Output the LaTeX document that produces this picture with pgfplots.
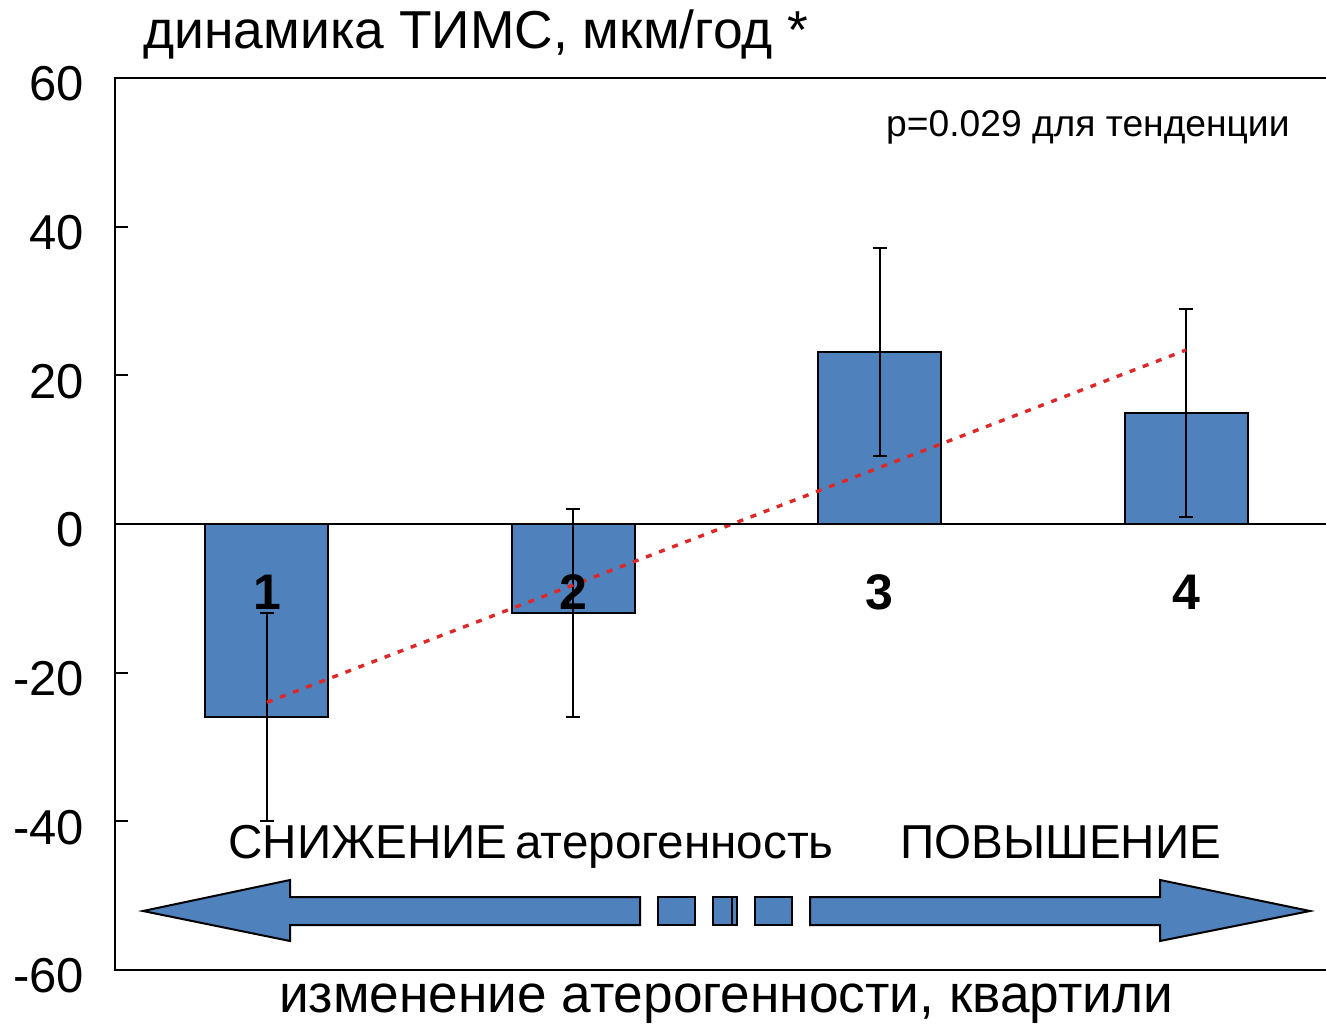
\documentclass[border=0pt]{standalone}
\usepackage{pgfplots}
\pgfplotsset{compat=1.18}
\usepackage{fontspec}
\setmainfont{Liberation Sans}
\definecolor{barblue}{RGB}{79,129,189}
\definecolor{trendred}{RGB}{222,40,40}
\begin{document}
\begin{tikzpicture}
\useasboundingbox (0,0) rectangle (663pt,512pt);
\begin{axis}[
 at={(57.5pt,27pt)}, anchor=south west,
 scale only axis, width=605.5pt, height=446pt,
 xmin=0.504, xmax=4.457, ymin=-60, ymax=60,
 axis line style={draw=none},
 ytick={-60,-40,...,60},
 ytick pos=left,
 xtick=\empty,
 tick align=inside,
 major tick length=6.5pt,
 tick style={black, line width=0.9pt},
 yticklabel style={font=\fontsize{24.5}{29}\selectfont, xshift=-12pt, yshift=-3pt},
 /pgf/number format/assume math mode=true,
 clip=false,
]
\addplot[ybar, bar width=61.5pt, fill=barblue, draw=black, line width=1pt,
 error bars/.cd, y dir=both, y explicit,
 error bar style={black, line width=1pt},
 error mark options={rotate=90, mark size=3.5pt, black, line width=1pt}]
 coordinates {(1,-26) +- (0,14) (2,-12) +- (0,14) (3,23.1) +- (0,14) (4,14.9) +- (0,14)};
\addplot[trendred, line width=1.7pt, dash pattern=on 3pt off 4pt] coordinates {(1,-24) (4,23.4)};
\draw[black, line width=1pt] (rel axis cs:0,0.5) -- (rel axis cs:1,0.5);
\draw[black, line width=1pt] (rel axis cs:1,1) -- (rel axis cs:0,1) -- (rel axis cs:0,0) -- (rel axis cs:1,0);
\node[font=\fontsize{25}{30}\selectfont\bfseries] at (axis cs:1,-9.15) {1};
\node[font=\fontsize{25}{30}\selectfont\bfseries] at (axis cs:2,-9.15) {2};
\node[font=\fontsize{25}{30}\selectfont\bfseries] at (axis cs:3,-9.15) {3};
\node[font=\fontsize{25}{30}\selectfont\bfseries] at (axis cs:4,-9.15) {4};
\end{axis}
\begin{scope}[x=0.5pt, y=-0.5pt, shift={(0pt,512pt)}]
\filldraw[fill=barblue, draw=black, line width=1pt]
 (143,911) -- (290,880) -- (290,897) -- (640,897) -- (640,925) -- (290,925) -- (290,941) -- cycle;
\filldraw[fill=barblue, draw=black, line width=1pt]
 (1310,911) -- (1160,880) -- (1160,897) -- (810,897) -- (810,925) -- (1160,925) -- (1160,941) -- cycle;
\filldraw[fill=barblue, draw=black, line width=1pt] (658,897) rectangle (695,925);
\filldraw[fill=barblue, draw=black, line width=1pt] (713,897) rectangle (737,925);
\draw[black, line width=0.8pt] (732,897) -- (732,925);
\filldraw[fill=barblue, draw=black, line width=1pt] (755,897) rectangle (792,925);
\node[anchor=base west, inner sep=0pt, font=\fontsize{26.7}{30}\selectfont] at (143,49) {динамика ТИМС, мкм/год *};
\node[anchor=base east, inner sep=0pt, font=\fontsize{18.6}{22}\selectfont] at (1290,137) {p=0.029 для тенденции};
\node[anchor=base west, inner sep=0pt, font=\fontsize{23.8}{28}\selectfont] at (228,858) {СНИЖЕНИЕ};
\node[anchor=base west, inner sep=0pt, font=\fontsize{23.8}{28}\selectfont] at (515,858) {атерогенность};
\node[anchor=base west, inner sep=0pt, font=\fontsize{23.8}{28}\selectfont] at (900,858) {ПОВЫШЕНИЕ};
\node[anchor=base, inner sep=0pt, font=\fontsize{26.6}{30}\selectfont] at (726,1012) {изменение атерогенности, квартили};
\end{scope}
\end{tikzpicture}
\end{document}
